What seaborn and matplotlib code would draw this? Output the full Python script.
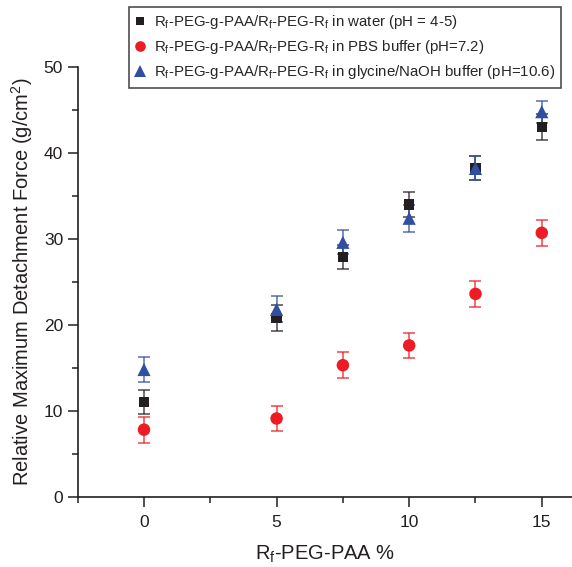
import matplotlib
matplotlib.use("Agg")
import matplotlib.pyplot as plt
import seaborn as sns
import pandas as pd
from matplotlib.ticker import MultipleLocator
from matplotlib.lines import Line2D

# ---- data ----
x_pct = [0, 5, 7.5, 10, 12.5, 15]
water = [11.0, 20.8, 27.9, 34.0, 38.2, 43.0]
water_err = [1.4, 1.5, 1.4, 1.5, 1.4, 1.5]
pbs = [7.8, 9.1, 15.3, 17.6, 23.6, 30.7]
pbs_err = [1.5, 1.5, 1.5, 1.5, 1.5, 1.5]
glycine = [14.8, 21.8, 29.6, 32.4, 38.2, 44.8]
glycine_err = [1.5, 1.5, 1.4, 1.6, 1.4, 1.3]

labels = [
    r"R$_\mathrm{f}$-PEG-g-PAA/R$_\mathrm{f}$-PEG-R$_\mathrm{f}$ in water (pH = 4-5)",
    r"R$_\mathrm{f}$-PEG-g-PAA/R$_\mathrm{f}$-PEG-R$_\mathrm{f}$ in PBS buffer (pH=7.2)",
    r"R$_\mathrm{f}$-PEG-g-PAA/R$_\mathrm{f}$-PEG-R$_\mathrm{f}$ in glycine/NaOH buffer (pH=10.6)",
]
x_ticks = [0, 5, 10, 15]
y_ticks = [0, 10, 20, 30, 40, 50]

sns.set_style("ticks")
plt.rcParams["font.family"] = ["Liberation Sans", "DejaVu Sans"]
plt.rcParams["mathtext.fontset"] = "custom"
plt.rcParams["mathtext.rm"] = "Liberation Sans"
plt.rcParams["mathtext.it"] = "Liberation Sans:italic"

fig = plt.figure(figsize=(5.72, 5.67), dpi=100)
ax = fig.add_axes([77.7 / 572, (567 - 496.7) / 567, 1 - 77.7 / 572, (496.7 - 67) / 567])

series = [
    (water, water_err, "#231f20", "s", 7.5, labels[0]),
    (pbs, pbs_err, "#ed1c24", "o", 9.0, labels[1]),
    (glycine, glycine_err, "#2f4fa2", "^", 9.5, labels[2]),
]

rows = []
for vals, errs, col, mk, ms, lab in series:
    for xv, yv, ev in zip(x_pct, vals, errs):
        rows.append({"x": xv, "y": yv, "err": ev, "series": lab})
df = pd.DataFrame(rows)

for vals, errs, col, mk, ms, lab in series:
    sub = df[df["series"] == lab]
    ax.errorbar(sub["x"], sub["y"], yerr=sub["err"], fmt="none", ecolor=col,
                alpha=0.75, elinewidth=1.2, capsize=4.5, capthick=1.2, zorder=2)
    sns.scatterplot(data=sub, x="x", y="y", ax=ax, color=col, marker=mk,
                    s=ms ** 2, edgecolor="none", linewidth=0, zorder=3, label=lab,
                    legend=False)

ax.set_xlim(-2.5, (572 - 144.3) / 26.5)
ax.set_ylim(0, 50)
ax.set_xticks(x_ticks)
ax.set_yticks(y_ticks)
ax.xaxis.set_minor_locator(MultipleLocator(2.5))
ax.yaxis.set_minor_locator(MultipleLocator(5))
ax.tick_params(axis="both", which="major", direction="out", length=7, width=1.1,
               labelsize=12.5, color="#231f20", labelcolor="#231f20")
ax.tick_params(axis="both", which="minor", direction="out", length=4, width=1.1,
               color="#231f20")
ax.tick_params(axis="x", pad=6)
for s in ["top", "right"]:
    ax.spines[s].set_visible(False)
for s in ["left", "bottom"]:
    ax.spines[s].set_linewidth(1.2)
    ax.spines[s].set_color("#231f20")

ax.set_xlabel(r"R$_\mathrm{f}$-PEG-PAA %", fontsize=14.5, labelpad=10, color="#231f20")
ax.set_ylabel(r"Relative Maximum Detachment Force (g/cm$^2$)", fontsize=14.5,
              labelpad=6, color="#231f20")

handles = [Line2D([], [], linestyle="none", marker=mk, color=col, markersize=ms * 0.85,
                  markeredgewidth=0) for _, _, col, mk, ms, _ in series]
leg = fig.legend(handles, labels, loc="upper left",
                 bbox_to_anchor=(129 / 572, 1 - 7 / 567), fontsize=10.85,
                 frameon=True, fancybox=False, handlelength=0.7, handletextpad=0.55,
                 labelspacing=0.48, borderpad=0.4, borderaxespad=0)
leg.get_frame().set_edgecolor("#231f20")
leg.get_frame().set_linewidth(1.2)

fig.savefig("out.png", dpi=100)
